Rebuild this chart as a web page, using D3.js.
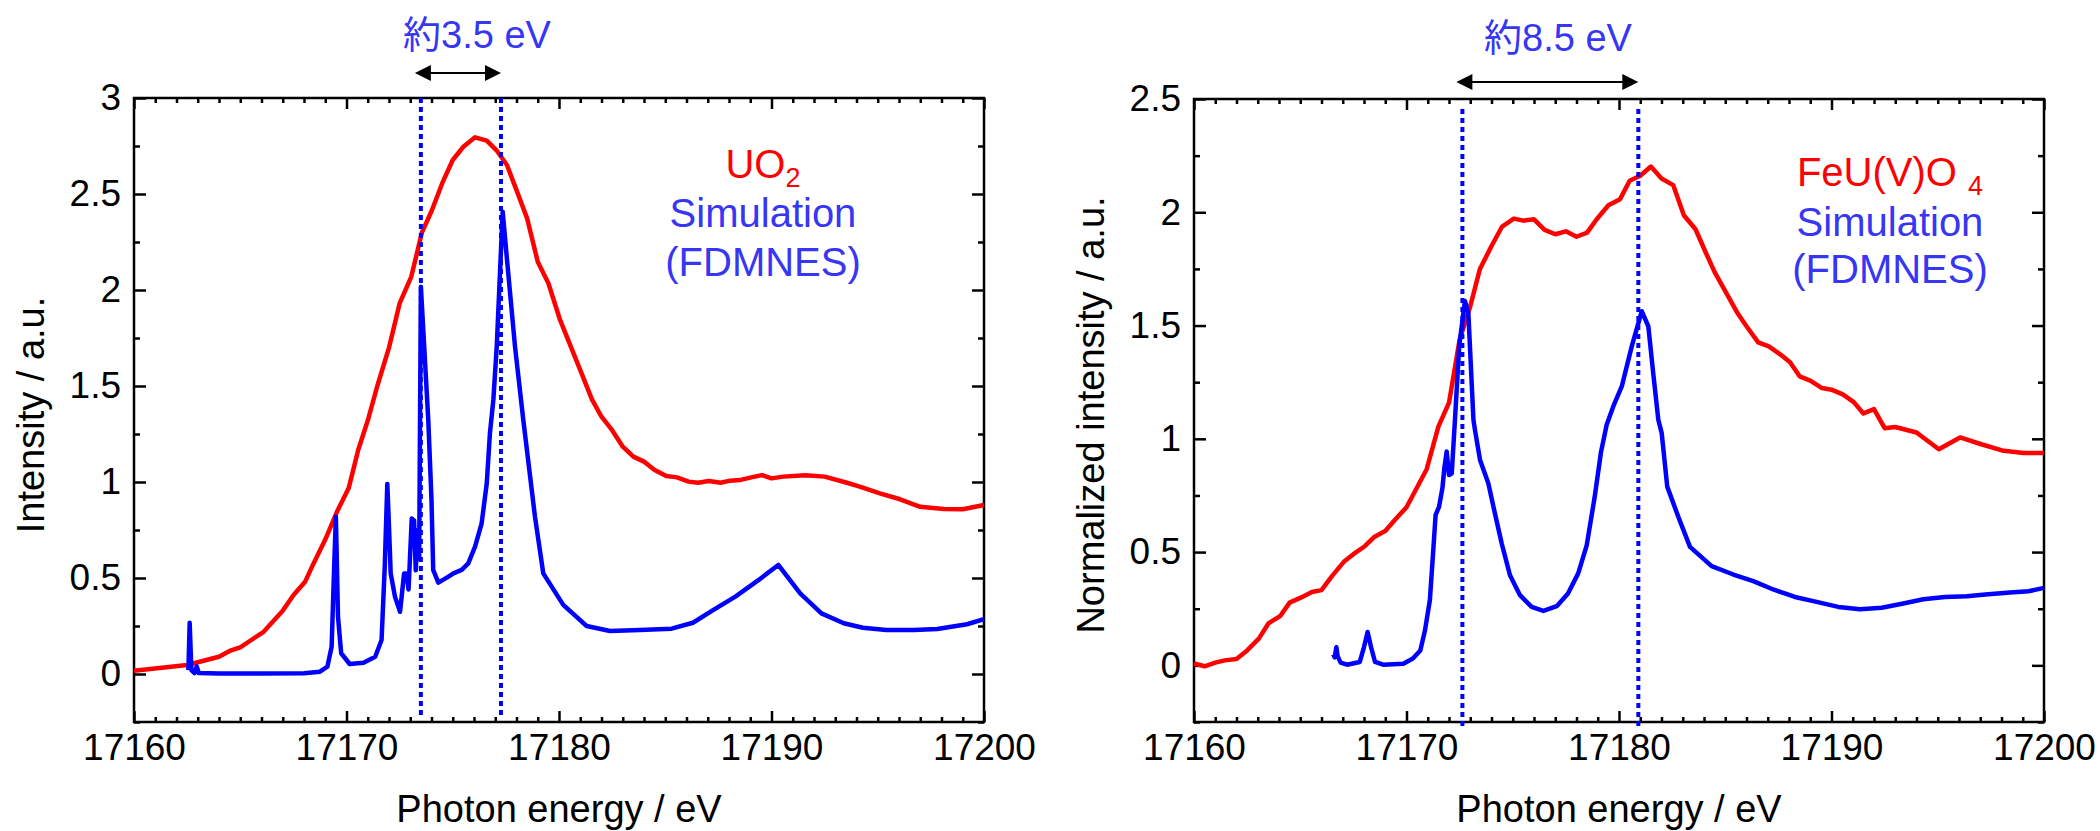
<html>
<head>
<meta charset="utf-8">
<script src="https://d3js.org/d3.v7.min.js"></script>
<style>
  body { margin: 0; background: #fff; }
  text { font-family: "Liberation Sans", Arial, "Noto Sans CJK JP", sans-serif; }
</style>
</head>
<body>
<svg id="chart" width="2100" height="831"></svg>
<script>
// UO2 measured spectrum [energy eV, intensity]
var uo2Exp = [[17160,0.017],[17162.5,0.047],[17164.0,0.09],[17164.5,0.12],[17165.0,0.139],[17166.1,0.22],[17167.0,0.33],
  [17167.5,0.41],[17168.05,0.48],[17168.45,0.576],[17169.0,0.70],[17169.55,0.845],[17170.1,0.967],[17170.55,1.167],
  [17171.0,1.32],[17171.45,1.50],[17172.0,1.70],[17172.5,1.93],[17173.05,2.07],[17173.55,2.30],[17174.0,2.41],
  [17174.5,2.555],[17175.0,2.677],[17175.5,2.746],[17176.05,2.795],[17176.6,2.778],[17177.05,2.729],[17177.55,2.651],
  [17178.0,2.52],[17178.5,2.373],[17179.0,2.147],[17179.5,2.035],[17180.05,1.844],[17181.0,1.583],[17181.55,1.43],
  [17182.0,1.34],[17182.5,1.27],[17183.0,1.184],[17183.5,1.132],[17184.0,1.106],[17184.5,1.063],[17185.05,1.031],
  [17185.55,1.024],[17186.1,1.002],[17186.55,0.996],[17187.05,1.005],[17187.6,0.996],[17188.05,1.007],[17188.5,1.01],
  [17189.05,1.024],[17189.55,1.036],[17190.0,1.019],[17190.55,1.028],[17191.6,1.035],[17192.5,1.028],[17193.55,0.996],
  [17194.15,0.976],[17195.1,0.941],[17196.05,0.91],[17197.0,0.871],[17198.1,0.859],[17199.0,0.858],[17200,0.88]];

// UO2 FDMNES simulation
var uo2Sim = [[17162.56,0.02],[17162.62,0.267],[17162.7,0.02],[17162.85,0.005],[17162.95,0.04],[17163.05,0.005],
  [17164,0.002],[17166,0.002],[17168,0.004],[17168.75,0.012],[17169.1,0.038],[17169.3,0.142],[17169.42,0.559],
  [17169.5,0.819],[17169.6,0.298],[17169.75,0.108],[17170.15,0.052],[17170.8,0.059],[17171.35,0.09],[17171.65,0.177],
  [17171.8,0.559],[17171.92,0.99],[17172.0,0.767],[17172.08,0.524],[17172.28,0.403],[17172.52,0.324],[17172.71,0.524],
  [17172.83,0.524],[17172.92,0.44],[17173.07,0.81],[17173.18,0.80],[17173.26,0.54],[17173.34,0.75],[17173.42,0.6],
  [17173.5,2.017],[17173.85,1.32],[17174.0,0.906],[17174.08,0.542],[17174.32,0.476],[17174.8,0.507],[17175.03,0.524],
  [17175.42,0.542],[17175.73,0.576],[17176.05,0.663],[17176.36,0.785],[17176.6,0.993],[17176.75,1.254],[17176.91,1.427],
  [17177.07,1.705],[17177.35,2.408],[17177.54,2.174],[17177.93,1.705],[17178.32,1.323],[17178.87,0.819],[17179.26,0.524],
  [17180.2,0.36],[17181.3,0.25],[17182.4,0.224],[17183.8,0.229],[17185.3,0.236],[17186.3,0.267],[17187.25,0.333],
  [17188.3,0.403],[17189.4,0.49],[17190.32,0.568],[17191.35,0.42],[17192.35,0.316],[17193.4,0.264],[17194.3,0.241],
  [17195.4,0.229],[17196.7,0.229],[17197.8,0.234],[17199.2,0.259],[17200,0.286]];

// FeU(V)O4 measured spectrum
var feuExp = [[17160,0.008],[17160.5,-0.004],[17161.0,0.012],[17161.45,0.022],[17162.0,0.028],[17162.5,0.066],
  [17163.05,0.118],[17163.5,0.185],[17164.05,0.217],[17164.5,0.277],[17165.05,0.30],[17165.55,0.324],[17166.0,0.332],
  [17166.5,0.395],[17167.05,0.457],[17167.5,0.491],[17168.05,0.527],[17168.5,0.568],[17169.0,0.593],[17169.45,0.642],
  [17170.0,0.698],[17170.5,0.786],[17170.95,0.866],[17171.5,1.054],[17172.0,1.16],[17172.5,1.438],[17173.0,1.585],
  [17173.45,1.748],[17174.0,1.851],[17174.5,1.937],[17175.05,1.972],[17175.5,1.963],[17176.0,1.969],[17176.5,1.922],
  [17177.0,1.903],[17177.5,1.916],[17178.0,1.892],[17178.5,1.91],[17178.95,1.969],[17179.5,2.031],[17180.05,2.058],
  [17180.5,2.139],[17181.0,2.161],[17181.5,2.202],[17182.0,2.149],[17182.55,2.12],[17183.05,1.987],[17183.6,1.925],
  [17184.05,1.829],[17184.5,1.736],[17185.0,1.652],[17185.55,1.559],[17186.0,1.497],[17186.55,1.426],[17187.05,1.408],
  [17187.6,1.372],[17188.05,1.338],[17188.5,1.276],[17189.0,1.257],[17189.55,1.224],[17190.0,1.217],[17190.55,1.195],
  [17191.05,1.162],[17191.5,1.112],[17192.0,1.131],[17192.5,1.047],[17193.0,1.052],[17194.0,1.028],[17195.05,0.954],
  [17196.05,1.006],[17197.05,0.976],[17198.1,0.947],[17199.05,0.937],[17200,0.937]];

// FeU(V)O4 FDMNES simulation
var feuSim = [[17166.55,0.05],[17166.62,0.035],[17166.7,0.08],[17166.76,0.04],[17166.9,0.012],[17167.2,0.003],
  [17167.8,0.015],[17168.0,0.081],[17168.17,0.147],[17168.33,0.081],[17168.52,0.015],[17168.9,0.003],[17169.85,0.007],
  [17170.3,0.03],[17170.65,0.066],[17170.87,0.155],[17171.1,0.288],[17171.26,0.509],[17171.37,0.664],[17171.53,0.70],
  [17171.69,0.782],[17171.78,0.87],[17171.89,0.944],[17172.0,0.84],[17172.13,0.848],[17172.28,1.084],[17172.48,1.408],
  [17172.75,1.608],[17172.91,1.556],[17173.15,1.084],[17173.22,1.04],[17173.46,0.907],[17173.85,0.804],[17174.16,0.671],
  [17174.48,0.538],[17174.87,0.398],[17175.34,0.31],[17175.89,0.258],[17176.44,0.24],[17177.07,0.261],[17177.6,0.317],
  [17178.08,0.406],[17178.48,0.53],[17178.85,0.74],[17179.15,0.94],[17179.42,1.062],[17179.73,1.143],[17180.13,1.231],
  [17180.6,1.408],[17181.07,1.563],[17181.38,1.497],[17181.61,1.29],[17181.85,1.084],[17182.01,1.025],[17182.27,0.789],
  [17182.79,0.656],[17183.34,0.523],[17184.36,0.438],[17185.38,0.401],[17186.32,0.372],[17187.26,0.335],[17188.28,0.302],
  [17189.3,0.28],[17190.32,0.258],[17191.34,0.248],[17192.36,0.254],[17193.38,0.273],[17194.32,0.292],[17195.34,0.302],
  [17196.36,0.305],[17197.38,0.314],[17198.4,0.322],[17199.27,0.327],[17200,0.342]];

// peak positions marked by dotted lines
var uo2Peaks = [17173.5, 17177.27];
var feuPeaks = [17172.63, 17180.91];

var xTicks = [17160, 17170, 17180, 17190, 17200];
var uo2YTicks = [0, 0.5, 1, 1.5, 2, 2.5, 3];
var feuYTicks = [0, 0.5, 1, 1.5, 2, 2.5];

var svg = d3.select("#chart");
var red = "#ff0000", blue = "#0000ff", textBlue = "#3636f4";

function drawPanel(p) {
    var x = d3.scaleLinear().domain([17160, 17200]).range([p.left, p.left + 850]);
    var y = d3.scaleLinear().domain(p.yDomain).range([722, p.top]);
    var g = svg.append("g");

    var xMinor = d3.range(17161, 17200).filter(function (d) { return d % 10 != 0; });
    var yMinor = d3.range(p.yDomain[0], p.yDomain[1] + 0.001, 0.25).filter(function (d) {
        return Math.abs(d * 2 - Math.round(d * 2)) > 0.01;
    });

    function styleAxis(sel) {
        sel.select(".domain").remove();
        sel.selectAll("line").attr("stroke", "#000").attr("stroke-width", 2.5);
        sel.selectAll("text").attr("font-size", 37).attr("fill", "#000")
            .attr("font-family", "'Liberation Sans', Arial, sans-serif");
    }

    // bottom
    g.append("g").attr("transform", "translate(0,722)")
        .call(d3.axisBottom(x).tickValues(xTicks).tickSizeInner(-11).tickSizeOuter(0).tickPadding(12).tickFormat(d3.format("d")))
        .call(styleAxis);
    g.append("g").attr("transform", "translate(0,722)")
        .call(d3.axisBottom(x).tickValues(xMinor).tickSizeInner(-5).tickSizeOuter(0).tickFormat(""))
        .call(styleAxis);
    // top
    g.append("g").attr("transform", "translate(0," + p.top + ")")
        .call(d3.axisTop(x).tickValues(xTicks).tickSizeInner(-11).tickSizeOuter(0).tickFormat(""))
        .call(styleAxis);
    g.append("g").attr("transform", "translate(0," + p.top + ")")
        .call(d3.axisTop(x).tickValues(xMinor).tickSizeInner(-5).tickSizeOuter(0).tickFormat(""))
        .call(styleAxis);
    // left
    g.append("g").attr("transform", "translate(" + p.left + ",0)")
        .call(d3.axisLeft(y).tickValues(p.yTicks).tickSizeInner(-12).tickSizeOuter(0).tickPadding(13).tickFormat(d3.format("")))
        .call(styleAxis);
    g.append("g").attr("transform", "translate(" + p.left + ",0)")
        .call(d3.axisLeft(y).tickValues(yMinor).tickSizeInner(-6).tickSizeOuter(0).tickFormat(""))
        .call(styleAxis);
    // right
    g.append("g").attr("transform", "translate(" + (p.left + 850) + ",0)")
        .call(d3.axisRight(y).tickValues(p.yTicks).tickSizeInner(-12).tickSizeOuter(0).tickFormat(""))
        .call(styleAxis);
    g.append("g").attr("transform", "translate(" + (p.left + 850) + ",0)")
        .call(d3.axisRight(y).tickValues(yMinor).tickSizeInner(-6).tickSizeOuter(0).tickFormat(""))
        .call(styleAxis);

    // frame
    g.append("rect")
        .attr("x", p.left).attr("y", p.top)
        .attr("width", 850).attr("height", 722 - p.top)
        .attr("fill", "none").attr("stroke", "#000").attr("stroke-width", 2.5);

    var line = d3.line()
        .x(function (d) { return x(d[0]); })
        .y(function (d) { return y(d[1]); });

    g.append("path").datum(p.exp).attr("d", line)
        .attr("fill", "none").attr("stroke", red).attr("stroke-width", 4.5).attr("stroke-linejoin", "round");
    g.append("path").datum(p.sim).attr("d", line)
        .attr("fill", "none").attr("stroke", blue).attr("stroke-width", 4.5).attr("stroke-linejoin", "round");

    // dotted peak lines
    g.selectAll(".peak").data(p.peaks).enter().append("line")
        .attr("x1", function (d) { return x(d); }).attr("x2", function (d) { return x(d); })
        .attr("y1", p.dotTop).attr("y2", p.dotBottom)
        .attr("stroke", blue).attr("stroke-width", 4).attr("stroke-dasharray", "5,4");

    // double arrow between peaks
    var ax1 = x(p.peaks[0]) - 6, ax2 = x(p.peaks[1]), ay = p.arrowY;
    g.append("line").attr("x1", ax1 + 10).attr("x2", ax2 - 10).attr("y1", ay).attr("y2", ay)
        .attr("stroke", "#000").attr("stroke-width", 2);
    g.append("path").attr("d", "M" + ax1 + "," + ay + "l16,-8l0,16z").attr("fill", "#000");
    g.append("path").attr("d", "M" + ax2 + "," + ay + "l-16,-8l0,16z").attr("fill", "#000");

    g.append("text").attr("x", p.noteX).attr("y", p.noteY)
        .attr("text-anchor", "middle").attr("font-size", 38).attr("fill", textBlue)
        .text(p.note);

    // axis titles
    g.append("text").attr("x", p.left + 425).attr("y", 822)
        .attr("text-anchor", "middle").attr("font-size", 38).attr("fill", "#000")
        .text("Photon energy / eV");
    g.append("text").attr("transform", "translate(" + p.yTitleX + ",415) rotate(-90)")
        .attr("text-anchor", "middle").attr("font-size", 38).attr("fill", "#000")
        .text(p.yTitle);

    // legend text
    var t = g.append("text").attr("x", p.legX).attr("y", p.legY[0])
        .attr("text-anchor", "middle").attr("font-size", 40).attr("fill", red);
    t.append("tspan").text(p.name);
    t.append("tspan").attr("font-size", 27).attr("dy", p.subDy).text(p.sub);
    g.append("text").attr("x", p.legX).attr("y", p.legY[1])
        .attr("text-anchor", "middle").attr("font-size", 40).attr("fill", textBlue)
        .text("Simulation");
    g.append("text").attr("x", p.legX).attr("y", p.legY[2])
        .attr("text-anchor", "middle").attr("font-size", 40).attr("fill", textBlue)
        .text("(FDMNES)");
}

drawPanel({
    left: 134, top: 98, yDomain: [-0.25, 3], yTicks: uo2YTicks,
    exp: uo2Exp, sim: uo2Sim, peaks: uo2Peaks, dotTop: 98, dotBottom: 718,
    arrowY: 73, note: "約3.5 eV", noteX: 477, noteY: 48,
    yTitle: "Intensity / a.u.", yTitleX: 44,
    name: "UO", sub: "2", subDy: 9, legX: 763, legY: [178, 227, 276]
});

drawPanel({
    left: 1194, top: 99, yDomain: [-0.25, 2.5], yTicks: feuYTicks,
    exp: feuExp, sim: feuSim, peaks: feuPeaks, dotTop: 109, dotBottom: 728,
    arrowY: 82, note: "約8.5 eV", noteX: 1558, noteY: 51,
    yTitle: "Normalized intensity / a.u.", yTitleX: 1104,
    name: "FeU(V)O ", sub: "4", subDy: 9, legX: 1890, legY: [186, 236, 283]
});
</script>
</body>
</html>
